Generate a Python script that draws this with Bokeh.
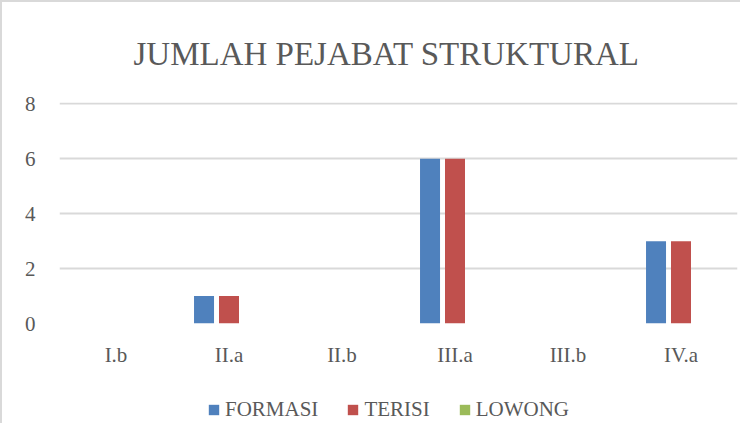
from bokeh.plotting import figure
from bokeh.layouts import column
from bokeh.models import ColumnDataSource, FixedTicker, Legend, LegendItem, Range1d, FactorRange
from bokeh.transform import dodge
from bokeh.embed import file_html
from bokeh.resources import INLINE

categories = ["I.b", "II.a", "II.b", "III.a", "III.b", "IV.a"]
formasi = [0, 1, 0, 6, 0, 3]
terisi = [0, 1, 0, 6, 0, 3]
lowong = [0, 0, 0, 0, 0, 0]
y_ticks = [0, 2, 4, 6, 8]
title_text = "JUMLAH PEJABAT STRUKTURAL"
series_names = ["FORMASI", "TERISI", "LOWONG"]
colors = ["#4F81BD", "#C0504D", "#9BBB59"]

FONT = "Liberation Serif"
TXT = "#595959"

src = ColumnDataSource(dict(cat=categories, formasi=formasi, terisi=terisi, lowong=lowong))

p = figure(x_range=FactorRange(*categories), y_range=Range1d(0, 8.05),
           frame_width=678, frame_height=221, output_backend="svg", toolbar_location=None,
           min_border_left=57, min_border_right=3, min_border_top=100, min_border_bottom=55,
           outline_line_color=None, background_fill_color="white", border_fill_color="white")

p.title.text = title_text
p.title.align = "left"
p.title.offset = 74
p.title.standoff = 62
p.title.text_font = FONT
p.title.text_font_size = "33px"
p.title.text_font_style = "normal"
p.title.text_color = TXT

bw = 0.177
off = 0.221
r1 = p.vbar(x=dodge("cat", -off, range=p.x_range), top="formasi", width=bw, source=src,
            fill_color=colors[0], line_color=None)
r2 = p.vbar(x=dodge("cat", 0.0, range=p.x_range), top="terisi", width=bw, source=src,
            fill_color=colors[1], line_color=None)
r3 = p.vbar(x=dodge("cat", off, range=p.x_range), top="lowong", width=bw, source=src,
            fill_color=colors[2], line_color=None)

p.xgrid.grid_line_color = None
p.ygrid.grid_line_color = "#d9d9d9"
p.ygrid.grid_line_width = 2
p.yaxis.ticker = FixedTicker(ticks=y_ticks)
p.xgrid.visible = False

for ax in (p.xaxis, p.yaxis):
    ax.axis_line_color = None
    ax.major_tick_line_color = None
    ax.minor_tick_line_color = None
    ax.major_label_text_font = FONT
    ax.major_label_text_color = TXT
    ax.major_label_text_font_size = "21px"
p.yaxis.major_label_standoff = 18
p.xaxis.major_label_standoff = 13

# legend strip below the chart (swatches only; placed outside the visible range)
pl = figure(width=738, height=45, x_range=(0, 1), y_range=(0, 1),
            x_axis_location=None, y_axis_location=None, min_border=0,
            output_backend="svg", toolbar_location=None,
            outline_line_color=None, background_fill_color="white", border_fill_color="white")
pl.grid.visible = False
lr = [pl.vbar(x=[-10], top=[0], width=0.1, fill_color=c, line_color=None) for c in colors]
legend = Legend(items=[LegendItem(label=n, renderers=[r]) for n, r in zip(series_names, lr)],
                orientation="horizontal", location=(148, 1),
                glyph_width=13, glyph_height=13, label_standoff=5, spacing=28,
                padding=0, margin=0, border_line_color=None, background_fill_alpha=0,
                label_text_font=FONT, label_text_font_size="21px", label_text_color=TXT)
pl.add_layout(legend, "center")

layout = column(p, pl, spacing=0)
layout.styles = {"border-left": "2px solid #d9d9d9", "border-top": "2px solid #d9d9d9"}

open("out.html", "w").write(file_html(layout, INLINE))
